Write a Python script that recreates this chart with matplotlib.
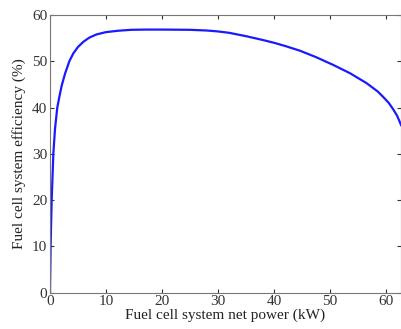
import matplotlib
matplotlib.use("Agg")
import matplotlib.pyplot as plt
import numpy as np

power_kw = [0, 0.12, 0.3, 0.6, 0.9, 1.3, 1.7, 2.1, 2.68, 3.45, 4.16, 5.0, 5.95, 7.0, 8.3, 10.0, 12.2, 14.5, 17, 20, 25, 28, 30, 32, 35.1, 38, 40, 42, 44.6, 47.5, 50.6, 53.6, 56.5, 58.5, 59.5, 60.5, 61.3, 62.0, 62.7]
efficiency = [0, 10.7, 20, 30.1, 35.5, 40, 42.5, 44.8, 47.3, 50, 51.7, 53.1, 54.2, 55.1, 55.8, 56.3, 56.6, 56.8, 56.85, 56.85, 56.8, 56.65, 56.45, 56.15, 55.4, 54.6, 54.0, 53.3, 52.3, 50.9, 49.2, 47.4, 45.3, 43.5, 42.3, 41.0, 39.6, 38.2, 36.2]

x_ticks = [0, 10, 20, 30, 40, 50, 60]
y_ticks = [0, 10, 20, 30, 40, 50, 60]

plt.rcParams['font.family'] = ['Liberation Serif', 'DejaVu Serif']
fig = plt.figure(figsize=(4.01, 3.29), dpi=100)
ax = fig.add_axes([50/401, 36.3/329, 351/401, 277.7/329])
ax.plot(power_kw, efficiency, color='#1a1aff', lw=1.6)
ax.set_xlim(0, 62.68)
ax.set_ylim(0, 60)
ax.set_xticks(x_ticks)
ax.set_yticks(y_ticks)
ax.tick_params(direction='in', top=True, right=True, labelsize=11, length=3, pad=2, colors='#333333')
for s in ax.spines.values():
    s.set_color('#777777')
ax.set_xlabel('Fuel cell system net power (kW)', fontsize=11, labelpad=0, color='#222222')
ax.set_ylabel('Fuel cell system efficiency (%)', fontsize=11, labelpad=4, color='#222222')
fig.savefig('out.png', dpi=100)
